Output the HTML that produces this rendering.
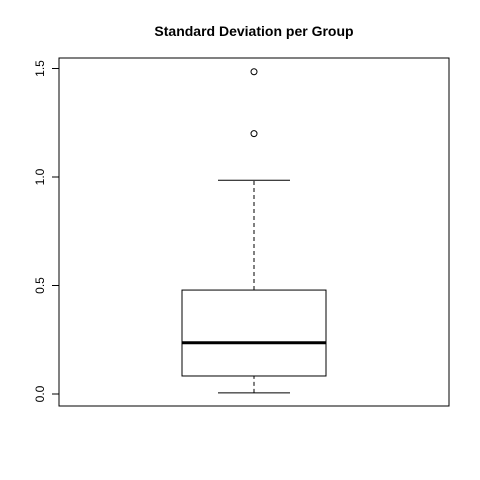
<!DOCTYPE html>
<html><head><meta charset="utf-8"><style>
html,body{margin:0;padding:0;background:#fff;}
svg{display:block;font-family:"Liberation Sans",sans-serif;}
</style></head><body>
<svg id="chart" width="480" height="480" viewBox="0 0 480 480">
<text x="254" y="36" text-anchor="middle" font-size="14" font-weight="bold">Standard Deviation per Group</text>
<rect x="59" y="58" width="390" height="348" fill="none" stroke="#000"/>
<g id="yaxis"></g>
<g id="box"></g>
</svg>
<script>
const tickValues=[0,0.5,1.0,1.5];
const tickLabels=["0.0","0.5","1.0","1.5"];
const stats=[0.005,0.083,0.236,0.479,0.985];
const outliers=[1.20,1.485];
const NS="http://www.w3.org/2000/svg";
function y(v){return 394-v*217;}
const cx=254, bw=72, cw=36;
function mk(tag,attrs,parent){const e=document.createElementNS(NS,tag);for(const k in attrs)e.setAttribute(k,attrs[k]);parent.appendChild(e);return e;}
const ya=document.getElementById('yaxis');
mk('line',{x1:59,x2:59,y1:y(tickValues[0]),y2:y(tickValues[tickValues.length-1]),stroke:'#000'},ya);
tickValues.forEach((v,i)=>{
 const t=mk('line',{x1:52,x2:59,y1:y(v),y2:y(v),stroke:'#000'},ya);
 
 
 const tx=mk('text',{x:0,y:0,transform:`translate(44,${y(v)}) rotate(-90)`,'text-anchor':'middle','font-size':12},ya);
 tx.textContent=tickLabels[i];
 
 
});
const g=document.getElementById('box');
const w1=mk('line',{x1:cx,x2:cx,y1:y(stats[0]),y2:y(stats[1]),stroke:'#000','stroke-dasharray':'4,3'},g);


const w2=mk('line',{x1:cx,x2:cx,y1:y(stats[3]),y2:y(stats[4]),stroke:'#000','stroke-dasharray':'4,3'},g);


const c1=mk('line',{x1:cx-cw,x2:cx+cw,y1:y(stats[0]),y2:y(stats[0]),stroke:'#000'},g);


const c2=mk('line',{x1:cx-cw,x2:cx+cw,y1:y(stats[4]),y2:y(stats[4]),stroke:'#000'},g);


const b=mk('rect',{x:cx-bw,y:y(stats[3]),width:bw*2,height:y(stats[1])-y(stats[3]),fill:'#fff',stroke:'#000'},g);


const m=mk('line',{x1:cx-bw,x2:cx+bw,y1:y(stats[2]),y2:y(stats[2]),stroke:'#000','stroke-width':3},g);


outliers.forEach(v=>{
 const c=mk('circle',{cx:cx,cy:y(v),r:3,fill:'none',stroke:'#000'},g);
 
 
});
</script>
</body></html>
